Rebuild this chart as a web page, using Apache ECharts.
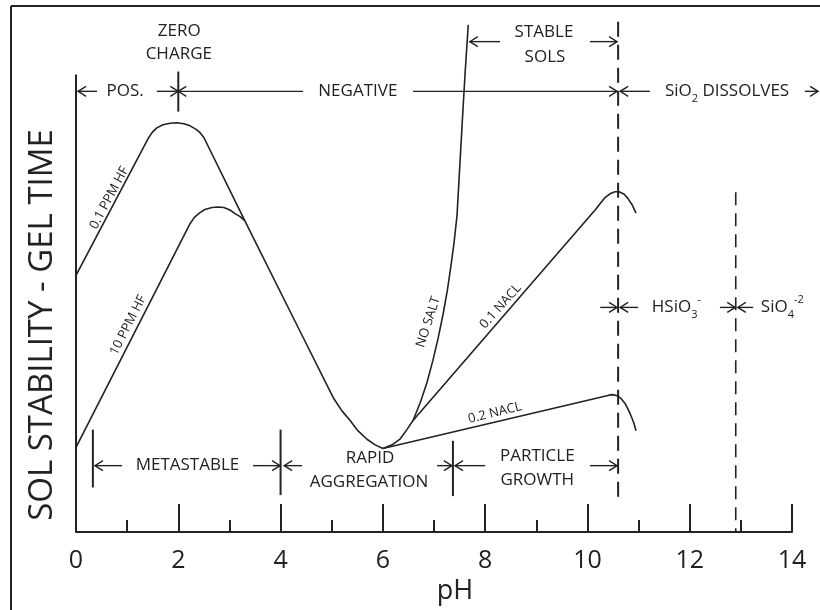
<!DOCTYPE html>
<html>
<head>
<meta charset="utf-8">
<script src="https://cdn.jsdelivr.net/npm/echarts@6.0.0/dist/echarts.min.js"></script>
<style>
  html, body { margin: 0; padding: 0; background: #fff; }
  #main { width: 820px; height: 610px; }
</style>
</head>
<body>
<div id="main"></div>
<script>
// ---- Curves: [pH, relative stability (gel time)] ----
const hf01 = [[0, 50.6], [1.41, 77.6], [1.49, 78.8], [1.58, 79.7], [1.70, 80.3], [1.84, 80.6], [1.97, 80.7],
              [2.11, 80.5], [2.23, 80.1], [2.35, 79.4], [2.43, 78.7], [2.50, 77.8],
              [3.30, 61.4], [4.38, 39.6], [5.03, 26.5], [5.20, 23.9], [5.36, 22.0], [5.51, 20.0],
              [5.69, 18.3], [5.85, 17.2], [6.00, 16.5]];
const hf10 = [[0, 16.7], [2.23, 60.8], [2.31, 62.0], [2.41, 62.9], [2.52, 63.6], [2.66, 64.0], [2.78, 64.1],
              [2.89, 64.0], [3.01, 63.5], [3.11, 62.8], [3.21, 62.2], [3.30, 61.4]];
const noSalt = [[6.00, 16.5], [6.18, 17.2], [6.34, 18.4], [6.47, 20.2], [6.59, 22.0], [6.73, 25.5], [6.86, 29.4],
                [6.98, 33.9], [7.08, 38.2], [7.18, 43.1], [7.26, 47.6], [7.33, 52.4], [7.39, 56.9],
                [7.45, 62.4], [7.49, 69.6], [7.55, 80.4], [7.61, 90.8], [7.67, 100.0]];
const nacl01 = [[6.59, 22.0], [10.15, 63.5], [10.25, 64.8], [10.34, 65.9], [10.44, 66.7], [10.54, 67.1],
                [10.62, 67.1], [10.72, 66.6], [10.79, 65.8], [10.87, 64.6], [10.95, 62.9]];
const nacl02 = [[6.00, 16.5], [10.34, 26.8], [10.42, 27.0], [10.50, 27.1], [10.58, 26.9], [10.66, 26.3],
                [10.74, 25.3], [10.81, 23.9], [10.87, 22.5], [10.91, 21.4], [10.95, 20.0]];

// ---- Reference lines ----
const stabilityAxis = [[0, 0], [0, 90.2]];
const dissolveLine = [[10.6, 100.6], [10.6, 5.5]];   // SiO2 starts dissolving
const silicateLine = [[12.9, 67], [12.9, 0]];        // HSiO3- / SiO4-2 boundary

// ---- Range arrows: [tail pH, level, head pH] ----
const arrows = [
  [0.41, 86.9, 0.04], [1.58, 86.9, 2.0],          // POS.
  [4.44, 86.9, 2.0], [6.59, 86.9, 10.58],         // NEGATIVE
  [11.22, 86.9, 10.64], [14.25, 86.9, 14.51],     // SiO2 DISSOLVES
  [8.29, 96.7, 7.70], [10.05, 96.7, 10.58],       // STABLE SOLS
  [10.25, 44.3, 10.58], [10.99, 44.3, 10.64],     // HSiO3-
  [12.59, 44.3, 12.89], [13.24, 44.3, 12.94],     // SiO4-2
  [0.90, 13.1, 0.37], [3.46, 13.1, 3.99],         // METASTABLE
  [4.42, 13.1, 4.07], [7.06, 13.1, 7.35],         // RAPID AGGREGATION
  [8.00, 13.1, 7.41], [10.05, 13.1, 10.58]        // PARTICLE GROWTH
];
// ---- Range boundaries: [pH, from, to] ----
const bounds = [[2.0, 82.9, 90.8], [0.33, 8.8, 20.2], [4.0, 7.3, 20.2], [7.37, 7.1, 18.0]];

// ---- Region notes: [text, pH, level]  (_x subscript, ^x superscript) ----
const notes = [
  ['ZERO', 2.02, 98.8], ['CHARGE', 2.01, 94.3],
  ['POS.', 0.96, 86.9], ['NEGATIVE', 5.51, 86.9],
  ['STABLE', 9.15, 98.6], ['SOLS', 9.17, 93.7],
  ['SiO_2 DISSOLVES', 12.73, 86.9],
  ['HSiO_3^-', 11.74, 44.3], ['SiO_4^-2', 13.81, 44.3],
  ['METASTABLE', 2.18, 13.1],
  ['RAPID', 5.75, 14.5], ['AGGREGATION', 5.73, 9.8],
  ['PARTICLE', 9.02, 14.9], ['GROWTH', 9.02, 10.2]
];
// ---- Curve names: [text, pH, level] ----
const curveNotes = [
  ['0.1 PPM HF', 0.65, 65.9], ['10 PPM HF', 1.02, 40.8], ['NO SALT', 6.89, 41.4],
  ['0.1 NACL', 8.30, 44.5], ['0.2 NACL', 8.19, 23.5]
];
const curveNoteAngles = [62, 63, 72, 48, 14];

const INK = '#222';
const FONT = '"Open Sans", "Noto Sans", sans-serif';

function toRich(s) {
  let t = '{n|' + s.replace(/_(\d)/g, '}{b|$1}{n|').replace(/\^(\S+)/g, '}{p|$1}{n|') + '}';
  return t.replace(/\{n\|\}/g, '');
}

function curve(name, data) {
  return {
    name, type: 'line', data, symbol: 'none', smooth: false,
    lineStyle: { color: INK, width: 1.6, join: 'round' }, silent: true, z: 3
  };
}
function straight(name, data, width, type) {
  return {
    name, type: 'line', data, symbol: 'none', clip: false,
    lineStyle: { color: INK, width, type }, silent: true, z: 2
  };
}

const chart = echarts.init(document.getElementById('main'));
chart.setOption({
  animation: false,
  backgroundColor: '#fff',
  grid: { left: 76, right: 28, top: 4.6, bottom: 75 },
  xAxis: {
    type: 'value', min: 0, max: 14, interval: 2,
    axisLine: { lineStyle: { color: INK, width: 2 } },
    axisTick: { inside: true, length: 28, lineStyle: { color: INK, width: 2 } },
    minorTick: { show: true, splitNumber: 2, length: 12, lineStyle: { color: INK, width: 2 } },
    splitLine: { show: false },
    axisLabel: { fontSize: 25, color: INK, fontFamily: FONT, margin: 16 },
    name: 'pH', nameLocation: 'middle', nameGap: 40,
    nameTextStyle: { fontSize: 27, color: INK, fontFamily: FONT, padding: [0, 0, 0, 42] }
  },
  yAxis: {
    type: 'value', min: 0, max: 104,
    axisLine: { show: false }, axisTick: { show: false }, axisLabel: { show: false }, splitLine: { show: false }
  },
  graphic: [
    { type: 'line', shape: { x1: 11, y1: 6, x2: 820, y2: 6 }, style: { stroke: INK, lineWidth: 2 } },
    { type: 'line', shape: { x1: 11, y1: 6, x2: 11, y2: 610 }, style: { stroke: INK, lineWidth: 2 } },
    { type: 'text', x: 43, y: 325, rotation: Math.PI / 2,
      style: { text: 'SOL STABILITY - GEL TIME', fontSize: 33, fontFamily: FONT, fill: INK, align: 'center', verticalAlign: 'middle' } }
  ],
  series: [
    straight('stability axis', stabilityAxis, 2, 'solid'),
    straight('SiO2 dissolves', dissolveLine, 2, [15, 8]),
    straight('silicate boundary', silicateLine, 1.6, [13, 8]),
    curve('0.1 PPM HF', hf01),
    curve('10 PPM HF', hf10),
    curve('NO SALT', noSalt),
    curve('0.1 NACL', nacl01),
    curve('0.2 NACL', nacl02),
    {
      name: 'ranges', type: 'custom', coordinateSystem: 'cartesian2d', silent: true, z: 4,
      data: arrows, encode: { x: 0, y: 1 },
      renderItem(params, api) {
        const t = api.coord([api.value(0), api.value(1)]);
        const h = api.coord([api.value(2), api.value(1)]);
        const d = h[0] > t[0] ? 1 : -1;
        const st = { stroke: INK, lineWidth: 1.4, fill: null };
        return { type: 'group', children: [
          { type: 'line', shape: { x1: t[0], y1: t[1], x2: h[0], y2: h[1] }, style: st },
          { type: 'polyline', shape: { points: [[h[0] - d * 8, h[1] - 5], [h[0], h[1]], [h[0] - d * 8, h[1] + 5]] }, style: st }
        ] };
      }
    },
    {
      name: 'bounds', type: 'custom', coordinateSystem: 'cartesian2d', silent: true, z: 4,
      data: bounds, encode: { x: 0, y: 1 },
      renderItem(params, api) {
        const a = api.coord([api.value(0), api.value(1)]);
        const b = api.coord([api.value(0), api.value(2)]);
        return { type: 'line', shape: { x1: a[0], y1: a[1], x2: b[0], y2: b[1] }, style: { stroke: INK, lineWidth: 2 } };
      }
    },
    {
      name: 'notes', type: 'custom', coordinateSystem: 'cartesian2d', silent: true, z: 5,
      data: notes.map(n => [n[1], n[2]]), encode: { x: 0, y: 1 },
      renderItem(params, api) {
        const p = api.coord([api.value(0), api.value(1)]);
        const base = { fontFamily: FONT, fill: INK };
        return { type: 'text', x: p[0], y: p[1], style: {
          text: toRich(notes[params.dataIndex][0]), align: 'center', verticalAlign: 'middle',
          rich: {
            n: Object.assign({ fontSize: 17, lineHeight: 26 }, base),
            b: Object.assign({ fontSize: 11, verticalAlign: 'bottom' }, base),
            p: Object.assign({ fontSize: 11, verticalAlign: 'top' }, base)
          }
        } };
      }
    },
    {
      name: 'curve names', type: 'custom', coordinateSystem: 'cartesian2d', silent: true, z: 5,
      data: curveNotes.map(n => [n[1], n[2]]), encode: { x: 0, y: 1 },
      renderItem(params, api) {
        const p = api.coord([api.value(0), api.value(1)]);
        return { type: 'text', x: p[0], y: p[1], rotation: curveNoteAngles[params.dataIndex] * Math.PI / 180,
          style: { text: curveNotes[params.dataIndex][0], fontSize: 13, fontFamily: FONT, fill: INK,
                   align: 'center', verticalAlign: 'middle' } };
      }
    }
  ]
});
</script>
</body>
</html>
